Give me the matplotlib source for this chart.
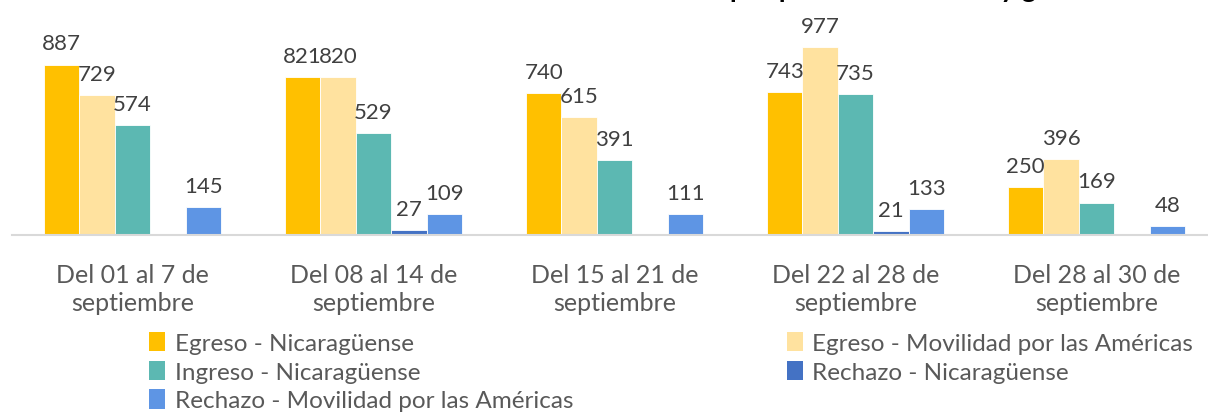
import numpy as np
import matplotlib.pyplot as plt
from matplotlib.patches import Patch

# data
categorias = ['Del 01 al 7 de\nseptiembre', 'Del 08 al 14 de\nseptiembre',
              'Del 15 al 21 de\nseptiembre', 'Del 22 al 28 de\nseptiembre',
              'Del 28 al 30 de\nseptiembre']
series = ['Egreso - Nicaragüense', 'Egreso - Movilidad por las Américas',
          'Ingreso - Nicaragüense', 'Rechazo - Nicaragüense',
          'Rechazo - Movilidad por las Américas']
egreso_nic = [887, 821, 740, 743, 250]
egreso_mov = [729, 820, 615, 977, 396]
ingreso_nic = [574, 529, 391, 735, 169]
rechazo_nic = [0, 27, 0, 21, 0]
rechazo_mov = [145, 109, 111, 133, 48]

valores = [egreso_nic, egreso_mov, ingreso_nic, rechazo_nic, rechazo_mov]
colores = ['#FFC000', '#FFE29F', '#5CB8B2', '#4472C4', '#5E95E4']

plt.rcParams['font.family'] = ['Lato', 'DejaVu Sans']

fig = plt.figure(figsize=(12.08, 4.14), dpi=100)
ax = fig.add_axes([12 / 1208, 1 - 236 / 414, 1205 / 1208, 236 / 414])

x = np.arange(len(categorias))
ancho = 0.147
for i, (vals, col) in enumerate(zip(valores, colores)):
    pos = x + (i - 2) * ancho
    bars = ax.bar(pos, vals, width=ancho, color=col, edgecolor='white',
                  linewidth=0.6, label=series[i])
    for b, v in zip(bars, vals):
        if v > 0:
            ax.annotate(str(v), (b.get_x() + b.get_width() / 2, v),
                        xytext=(0, 8), textcoords='offset points',
                        ha='center', va='bottom', fontsize=16, color='#404040')

ax.set_xlim(-0.5, 4.5)
ax.set_ylim(0, 1228)
ax.set_yticks([])
ax.set_xticks(x)
ax.set_xticklabels(categorias, fontsize=18, color='#595959', linespacing=1.3)
ax.tick_params(axis='x', length=0, pad=20)
for s in ['top', 'right', 'left']:
    ax.spines[s].set_visible(False)
ax.spines['bottom'].set_color('#D9D9D9')
ax.spines['bottom'].set_linewidth(1.5)

# title (cut off in the original picture)
fig.text(0.69, 1 + 3 / 414, 'Movimientos por puesto fronterizo y género',
         ha='center', va='baseline', fontsize=20, fontweight='bold', color='black')

orden = [0, 2, 4, 1, 3]
handles = [Patch(facecolor=colores[k], edgecolor='none') for k in orden]
labels = [series[k] for k in orden]
fig.legend(handles, labels, ncol=2, loc='upper left', bbox_to_anchor=(149 / 1208, 1 - 333 / 414),
           frameon=False, fontsize=17.5, labelcolor='#595959', handlelength=0.65,
           handleheight=0.85, handletextpad=0.4, labelspacing=0.27, columnspacing=8.8,
           borderpad=0, borderaxespad=0)

fig.savefig('out.png', dpi=100)
